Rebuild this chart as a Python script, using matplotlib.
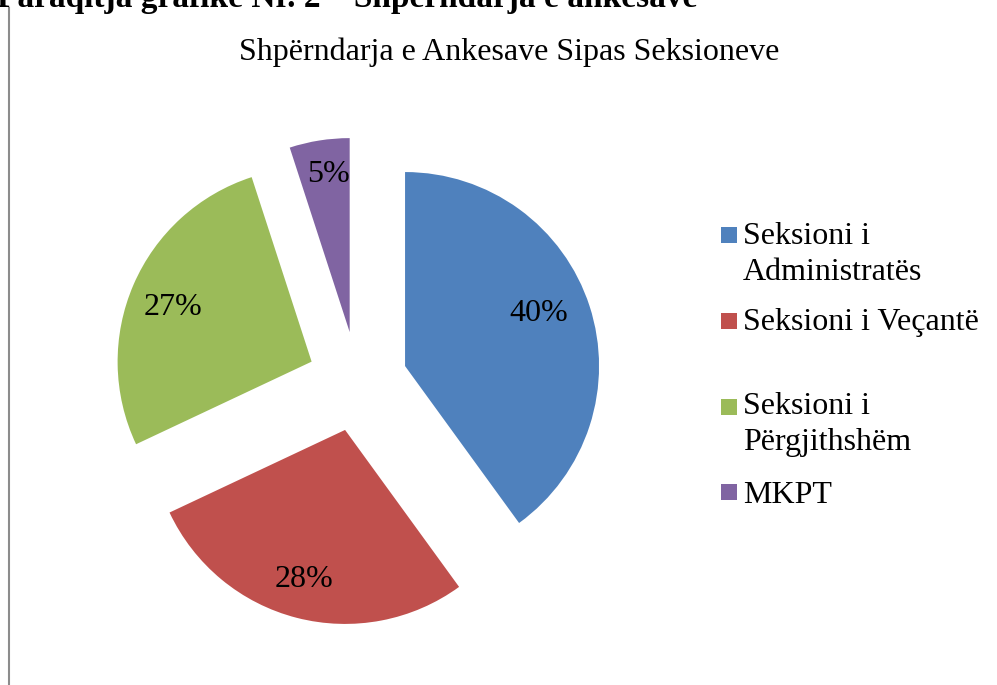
import matplotlib.pyplot as plt
import numpy as np
from matplotlib.patches import Rectangle

# Të dhënat e grafikut
labels = ['Seksioni i\nAdministratës', 'Seksioni i Veçantë', 'Seksioni i\nPërgjithshëm', 'MKPT']
values = [40, 28, 27, 5]
colors = ['#4F81BD', '#C0504D', '#9BBB59', '#8064A2']

# vendosja e etiketave (largësia si pjesë e rrezes, zhvendosja e këndit)
label_dist = [0.74, 0.80, 0.77, 0.82]
label_dang = [3.4, -0.9, 2.0, -1.2]

plt.rcParams['font.family'] = ['Liberation Serif', 'DejaVu Serif']

W, H = 997, 685
fig = plt.figure(figsize=(W / 100, H / 100), dpi=100)
ax = fig.add_axes([0, 0, 1, 1])

# Pie me të gjitha pjesët e ndara (explode në njësi të të dhënave)
r = 194
wedges, texts = ax.pie(values, colors=colors, startangle=90, counterclock=False,
                       radius=r, center=(357.5, H - 381.5), explode=[50] * 4,
                       wedgeprops=dict(linewidth=0), frame=True)
ax.set_xlim(0, W)
ax.set_ylim(0, H)
ax.set_aspect('equal')
ax.axis('off')

for w, v, d, da in zip(wedges, values, label_dist, label_dang):
    ang = np.deg2rad((w.theta1 + w.theta2) / 2 + da)
    cx, cy = w.center
    ax.text(cx + d * r * np.cos(ang), cy + d * r * np.sin(ang), f'{v}%',
            ha='center', va='center', fontsize=23)

# Titulli
ax.text(509, H - 52, 'Shpërndarja e Ankesave Sipas Seksioneve',
        ha='center', va='center', fontsize=23)

# Legjenda
sq_y = [235, 320.5, 406.5, 492]
txt_base = [280, 330, 450, 503]
for lab, c, sy, ty in zip(labels, colors, sq_y, txt_base):
    ax.add_patch(Rectangle((721, H - sy - 8), 16, 16, color=c, lw=0))
    ax.text(743, H - ty, lab, ha='left', va='baseline', fontsize=23, linespacing=1.3)

# Vija e kornizës majtas
ax.plot([9, 9], [0, H - 8], color='#8c8c8c', lw=1.5)

# Teksti i prerë sipër
ax.text(-3, H - 7, 'Paraqitja grafike Nr. 2 – Shpërndarja e ankesave',
        ha='left', va='baseline', fontsize=24, fontweight='bold', clip_on=False)

fig.savefig('out.png', dpi=100)
